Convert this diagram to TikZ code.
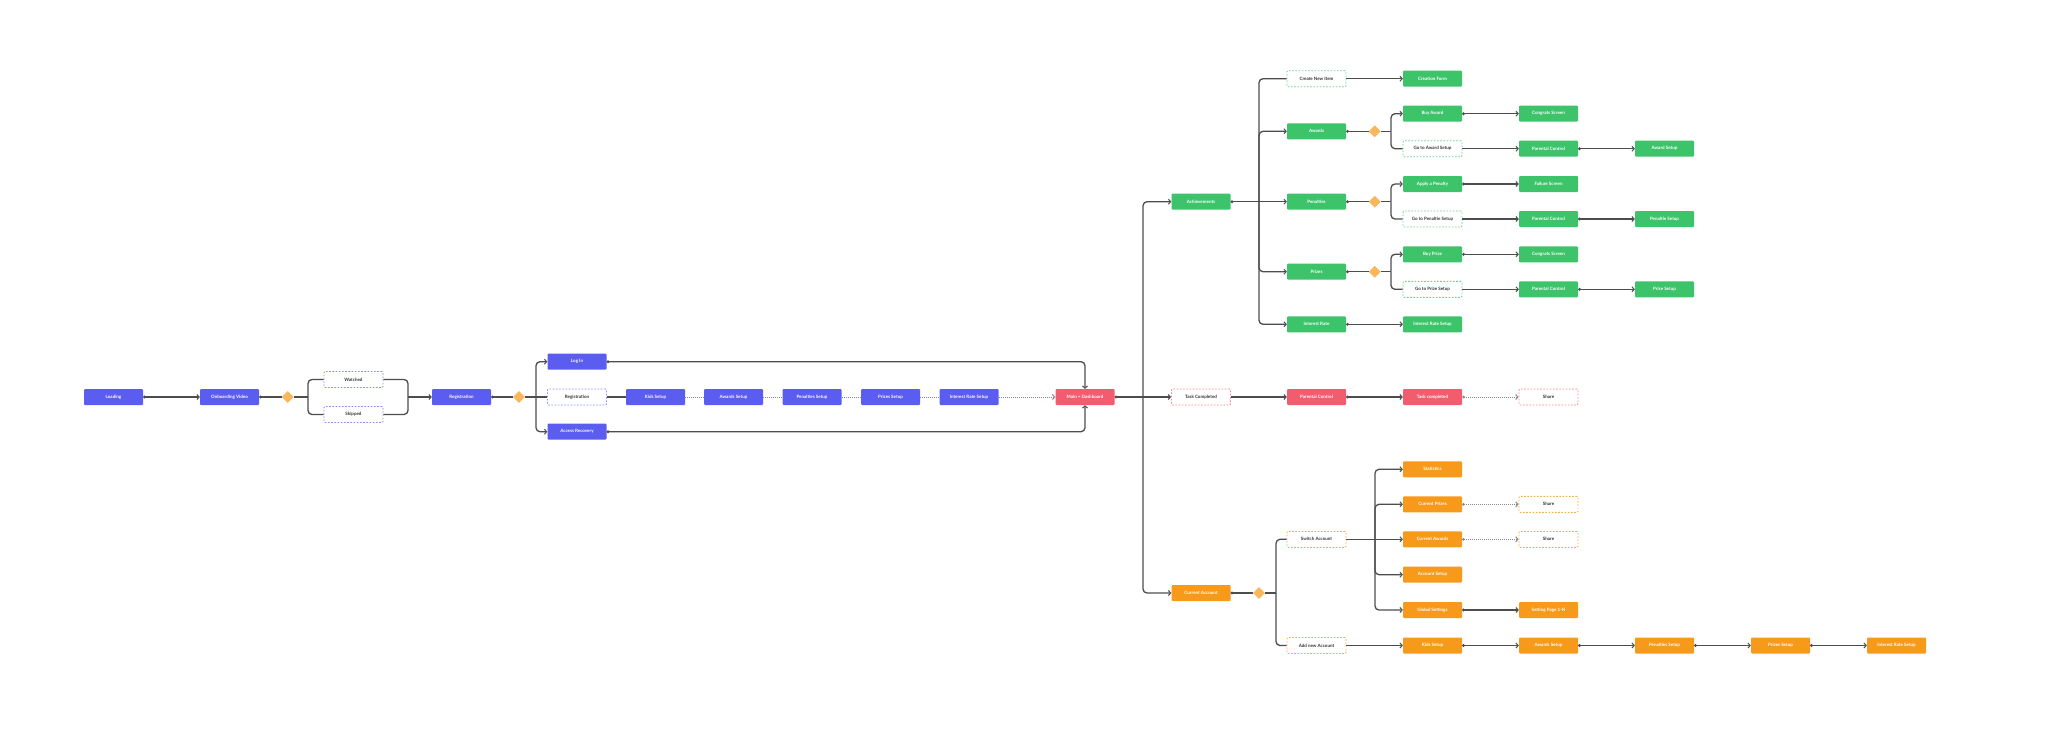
\documentclass[tikz,border=0pt]{standalone}
\usepackage{fontspec}
\setmainfont{Lato}
\usetikzlibrary{arrows.meta,shapes.geometric}
\definecolor{cblue}{HTML}{5B5CF0}
\definecolor{cred}{HTML}{F25C6F}
\definecolor{cgreen}{HTML}{3DC46B}
\definecolor{corange}{HTML}{F7991B}
\definecolor{cdia}{HTML}{F9B65A}
\definecolor{cline}{HTML}{4D4D4D}
\definecolor{cdot}{HTML}{8A8A8A}
\definecolor{ctext}{HTML}{333333}
\tikzset{
  box/.style={rectangle, rounded corners=1pt, minimum width=59pt, minimum height=16pt, inner sep=0pt, font=\fontsize{4.5}{5}\selectfont\bfseries, text=white},
  bbox/.style={box, fill=cblue},
  rbox/.style={box, fill=cred},
  gbox/.style={box, fill=cgreen},
  obox/.style={box, fill=corange},
  dbox/.style={box, fill=white, line width=0.9pt, dash pattern=on 1.6pt off 1.6pt, text=ctext},
  bdash/.style={dbox, draw=cblue!70},
  rdash/.style={dbox, draw=cred!75},
  gdash/.style={dbox, draw=cgreen!75},
  odash/.style={dbox, draw=corange!80},
  diam/.style={diamond, fill=cdia, minimum width=12pt, minimum height=12pt, inner sep=0pt},
  conn/.style={draw=cline, line width=1.3pt, rounded corners=4pt},
  dotc/.style={draw=cdot, line width=1pt, dash pattern=on 1pt off 1pt},
  arr/.style={-{Straight Barb[length=2.2pt,width=5pt,line width=1pt]}},
  dotarr/.style={{Circle[length=2.6pt]}-{Straight Barb[length=2.2pt,width=5pt,line width=1pt]}},
  dotstart/.style={{Circle[length=2.6pt]}-},
}
\begin{document}
\begin{tikzpicture}[x=1pt,y=-1pt]
\useasboundingbox[fill=white] (0,0) rectangle (2048,745);
% ---- blue ----
\node[bbox] (load) at (113.5,397) {Loading};
\node[bbox] (onb) at (229.5,397) {Onboarding Video};
\node[diam] (d1) at (287.7,397) {};
\node[bdash] (wat) at (353.5,379.5) {Watched};
\node[bdash] (skp) at (353.5,414.5) {Skipped};
\node[bbox] (reg) at (461.5,397) {Registration};
\node[diam] (d2) at (519,397) {};
\node[bbox] (login) at (577,361.7) {Log In};
\node[bdash] (reg2) at (577,397) {Registration};
\node[bbox] (acc) at (577,431.7) {Access Recovery};
\node[bbox] (kids) at (655.5,397) {Kids Setup};
\node[bbox] (awds) at (733.5,397) {Awards Setup};
\node[bbox] (pens) at (812,397) {Penalties Setup};
\node[bbox] (przs) at (890.5,397) {Prizes Setup};
\node[bbox] (ints) at (969,397) {Interest Rate Setup};
% ---- red ----
\node[rbox] (main) at (1085,397) {Main + Dashboard};
\node[rdash] (tc) at (1201,397) {Task Completed};
\node[rbox] (pc0) at (1316.5,397) {Parental Control};
\node[rbox] (tc2) at (1432.5,397) {Task completed};
\node[rdash] (sh0) at (1548.5,397) {Share};
% ---- green ----
\node[gbox] (ach) at (1201,201.7) {Achievements};
\node[gdash] (cni) at (1316.5,78.7) {Create New Item};
\node[gbox] (cf) at (1432.5,78.7) {Creation Form};
\node[gbox] (aw) at (1316.5,131.3) {Awards};
\node[diam] (da) at (1374.7,131.3) {};
\node[gbox] (bua) at (1432.5,113.7) {Buy Award};
\node[gdash] (gas) at (1432.5,148.7) {Go to Award Setup};
\node[gbox] (cs1) at (1548.5,113.7) {Congrats Screen};
\node[gbox] (pc1) at (1548.5,148.7) {Parental Control};
\node[gbox] (as) at (1664.5,148.7) {Award Setup};
\node[gbox] (pe) at (1316.5,201.7) {Penalties};
\node[diam] (dp) at (1374.7,201.7) {};
\node[gbox] (ap) at (1432.5,184) {Apply a Penalty};
\node[gdash] (gps) at (1432.5,219) {Go to Penaltie Setup};
\node[gbox] (fs) at (1548.5,184) {Failure Screen};
\node[gbox] (pc2) at (1548.5,219) {Parental Control};
\node[gbox] (ps) at (1664.5,219) {Penaltie Setup};
\node[gbox] (pr) at (1316.5,271.7) {Prizes};
\node[diam] (dpr) at (1374.7,271.7) {};
\node[gbox] (bp) at (1432.5,254.3) {Buy Prize};
\node[gdash] (gprs) at (1432.5,289.3) {Go to Prize Setup};
\node[gbox] (cs2) at (1548.5,254.3) {Congrats Screen};
\node[gbox] (pc3) at (1548.5,289.3) {Parental Control};
\node[gbox] (prs) at (1664.5,289.3) {Prize Setup};
\node[gbox] (ir) at (1316.5,324.3) {Interest Rate};
\node[gbox] (irs) at (1432.5,324.3) {Interest Rate Setup};
% ---- orange ----
\node[obox] (ca) at (1201,593) {Current Account};
\node[diam] (dc) at (1259,593) {};
\node[odash] (sw) at (1316.5,539.3) {Switch Account};
\node[odash] (an) at (1316.5,645.5) {Add new Account};
\node[obox] (st) at (1432.5,469.3) {Statistics};
\node[obox] (cp) at (1432.5,504.3) {Current Prizes};
\node[obox] (caw) at (1432.5,539.3) {Current Awards};
\node[obox] (acs) at (1432.5,574.7) {Account Setup};
\node[obox] (gs) at (1432.5,610) {Global Settings};
\node[obox] (ks) at (1432.5,645.5) {Kids Setup};
\node[odash] (sh1) at (1548.5,504.3) {Share};
\node[odash] (sh2) at (1548.5,539.3) {Share};
\node[obox] (sp) at (1548.5,610) {Setting Page 1-N};
\node[obox] (oaw) at (1548.5,645.5) {Awards Setup};
\node[obox] (ope) at (1664.5,645.5) {Penalties Setup};
\node[obox] (opr) at (1780.5,645.5) {Prizes Setup};
\node[obox] (oir) at (1896.5,645.5) {Interest Rate Setup};
% ---- branch points ----
\coordinate (b1) at (308,397);
\coordinate (m1) at (408,397);
\coordinate (b2) at (536,397);
\coordinate (b3) at (1143,397);
\coordinate (bA) at (1259,201.7);
\coordinate (bAw) at (1391,131.3);
\coordinate (bPe) at (1391,201.7);
\coordinate (bPr) at (1391,271.7);
\coordinate (bC) at (1276,593);
\coordinate (bS) at (1375,539.3);
% ---- connectors: blue ----
\draw[conn,dotarr] (load) -- (onb);
\draw[conn,dotstart] (onb) -- (d1);
\draw[conn] (d1) -- (b1);
\draw[conn] (b1) |- (wat.west);
\draw[conn] (b1) |- (skp.west);
\draw[conn] (wat.east) -| (m1);
\draw[conn] (skp.east) -| (m1);
\draw[conn,arr] (m1) -- (reg);
\draw[conn,dotstart] (reg) -- (d2);
\draw[conn] (d2) -- (b2);
\draw[conn,arr] (b2) |- (login.west);
\draw[conn] (b2) -- (reg2);
\draw[conn,arr] (b2) |- (acc.west);
\draw[conn] (reg2) -- (kids);
\draw[dotc] (kids) -- (awds);
\draw[dotc] (awds) -- (pens);
\draw[dotc] (pens) -- (przs);
\draw[dotc] (przs) -- (ints);
\draw[dotc,arr] (ints) -- (main);
\draw[conn,dotarr] (login.east) -| (main.north);
\draw[conn,dotarr] (acc.east) -| (main.south);
% ---- main branch ----
\draw[conn,dotstart] (main) -- (b3);
\draw[conn,arr] (b3) |- (ach.west);
\draw[conn,arr] (b3) -- (tc);
\draw[conn,arr] (b3) |- (ca.west);
% ---- red row ----
\draw[conn,arr] (tc) -- (pc0);
\draw[conn,dotarr] (pc0) -- (tc2);
\draw[dotc,dotarr] (tc2) -- (sh0);
% ---- green ----
\draw[conn,dotstart] (ach) -- (bA);
\draw[conn] (bA) |- (cni.west);
\draw[conn,arr] (bA) |- (aw.west);
\draw[conn,arr] (bA) -- (pe);
\draw[conn,arr] (bA) |- (pr.west);
\draw[conn,arr] (bA) |- (ir.west);
\draw[conn,arr] (cni) -- (cf);
\draw[conn,dotstart] (aw) -- (da);
\draw[conn] (da) -- (bAw);
\draw[conn,arr] (bAw) |- (bua.west);
\draw[conn] (bAw) |- (gas.west);
\draw[conn,dotarr] (bua) -- (cs1);
\draw[conn,arr] (gas) -- (pc1);
\draw[conn,dotarr] (pc1) -- (as);
\draw[conn,dotstart] (pe) -- (dp);
\draw[conn] (dp) -- (bPe);
\draw[conn,arr] (bPe) |- (ap.west);
\draw[conn] (bPe) |- (gps.west);
\draw[conn,dotarr] (ap) -- (fs);
\draw[conn,arr] (gps) -- (pc2);
\draw[conn,dotarr] (pc2) -- (ps);
\draw[conn,dotstart] (pr) -- (dpr);
\draw[conn] (dpr) -- (bPr);
\draw[conn,arr] (bPr) |- (bp.west);
\draw[conn] (bPr) |- (gprs.west);
\draw[conn,dotarr] (bp) -- (cs2);
\draw[conn,arr] (gprs) -- (pc3);
\draw[conn,dotarr] (pc3) -- (prs);
\draw[conn,dotarr] (ir) -- (irs);
% ---- orange ----
\draw[conn,dotstart] (ca) -- (dc);
\draw[conn] (dc) -- (bC);
\draw[conn] (bC) |- (sw.west);
\draw[conn] (bC) |- (an.west);
\draw[conn] (sw) -- (bS);
\draw[conn,arr] (bS) |- (st.west);
\draw[conn,arr] (bS) |- (cp.west);
\draw[conn,arr] (bS) -- (caw);
\draw[conn,arr] (bS) |- (acs.west);
\draw[conn,arr] (bS) |- (gs.west);
\draw[dotc,dotarr] (cp) -- (sh1);
\draw[dotc,dotarr] (caw) -- (sh2);
\draw[conn,dotarr] (gs) -- (sp);
\draw[conn,arr] (an) -- (ks);
\draw[conn,dotarr] (ks) -- (oaw);
\draw[conn,dotarr] (oaw) -- (ope);
\draw[conn,dotarr] (ope) -- (opr);
\draw[conn,dotarr] (opr) -- (oir);
\end{tikzpicture}
\end{document}
